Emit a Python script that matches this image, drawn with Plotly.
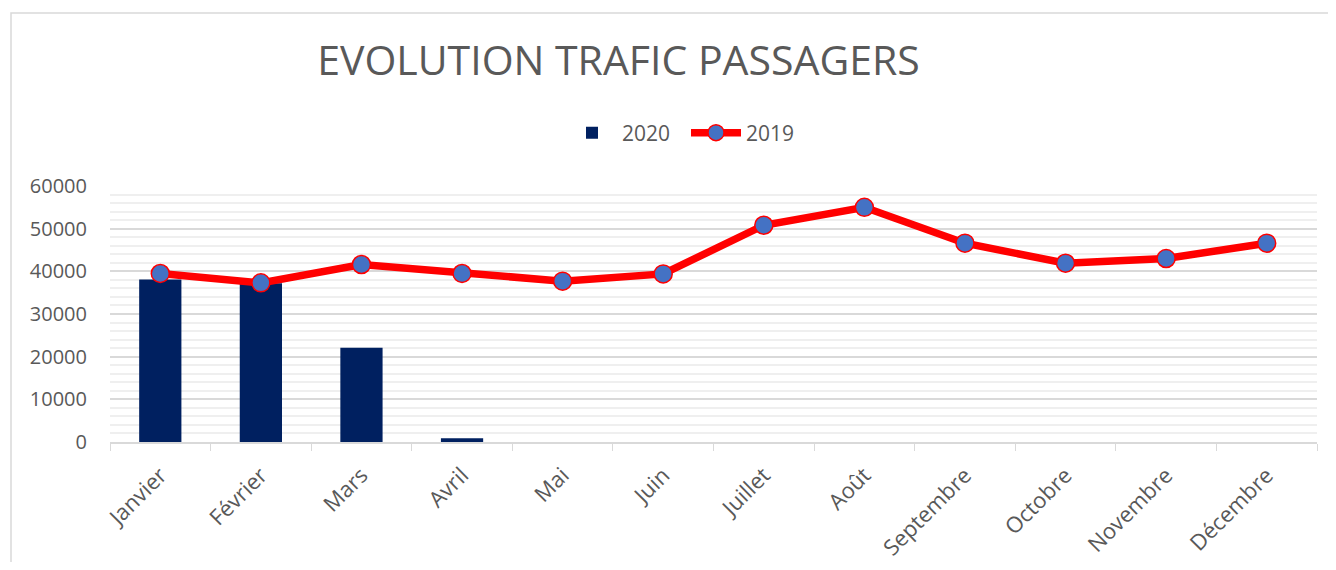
import plotly.graph_objects as go

months = ["Janvier", "Février", "Mars", "Avril", "Mai", "Juin", "Juillet",
          "Août", "Septembre", "Octobre", "Novembre", "Décembre"]
traffic_2020 = [38100, 37200, 22100, 900, None, None, None, None, None, None, None, None]
traffic_2019 = [39500, 37300, 41600, 39500, 37700, 39400, 50800, 55000, 46600, 41900, 43000, 46600]
y_ticks = [0, 10000, 20000, 30000, 40000, 50000, 60000]

FONT = "Open Sans"
GREY = "#595959"

# page body has an 8px margin: reference pixel (X, Y) -> figure (X-8, Y-8)
OFF = 8
W, H = 1336 - 2 * OFF, 570 - 2 * OFF
L, T = 110 - OFF, 186 - OFF
R = W - (1317 - OFF)
B = H - (442 - OFF)
pw, ph = W - L - R, H - T - B

def px(x):
    return (x - OFF - L) / pw

def py(y):
    return (H - B - (y - OFF)) / ph

fig = go.Figure()
fig.add_trace(go.Bar(
    x=months, y=traffic_2020, name="2020",
    marker=dict(color="#002060", line=dict(color="#002060", width=0)),
    width=0.42,
))
fig.add_trace(go.Scatter(
    x=months, y=traffic_2019, name="2019", mode="lines+markers",
    line=dict(color="#FF0000", width=7.5),
    marker=dict(size=18, color="#4472C4", line=dict(color="#FF0000", width=1.5)),
))

fig.update_layout(
    width=W, height=H,
    margin=dict(l=L, r=R, t=T, b=B, autoexpand=False),
    paper_bgcolor="white", plot_bgcolor="white",
    font=dict(family=FONT, color=GREY, size=20),
    title=dict(text="EVOLUTION TRAFIC PASSAGERS",
               font=dict(family=FONT, size=41, color=GREY),
               x=(618.5 - OFF) / W, xanchor="center", xref="container",
               y=1 - (61 - OFF) / H, yanchor="middle", yref="container"),
    showlegend=True,
    legend=dict(orientation="h", x=px(686), xanchor="center",
                y=py(133), yanchor="middle",
                font=dict(family=FONT, size=21, color=GREY),
                itemwidth=50, entrywidth=59, entrywidthmode="pixels",
                bgcolor="rgba(0,0,0,0)"),
    barmode="overlay",
    xaxis=dict(
        type="category", tickangle=-45, automargin=False,
        showline=True, linecolor="#d9d9d9", linewidth=1.5,
        ticks="outside", tickson="boundaries", ticklen=7, tickcolor="#d9d9d9",
        showgrid=False, ticklabelstandoff=10,
        tickfont=dict(family=FONT, size=22, color=GREY),
        range=[-0.5, 11.5],
    ),
    yaxis=dict(
        range=[0, 60000], tickvals=y_ticks, ticktext=[str(v) for v in y_ticks],
        automargin=False,
        showgrid=True, gridcolor="#d9d9d9", gridwidth=1.5,
        zeroline=False, showline=False,
        ticklabelstandoff=22,
        tickfont=dict(family=FONT, size=20, color=GREY),
        minor=dict(dtick=2000, showgrid=True, gridcolor="#efefef", gridwidth=1.5),
    ),
    shapes=[dict(type="rect", xref="paper", yref="paper",
                 x0=px(11), x1=px(1345), y0=py(580), y1=py(13),
                 line=dict(color="#d9d9d9", width=1.5), layer="below")],
)

fig.write_html("out.html")
